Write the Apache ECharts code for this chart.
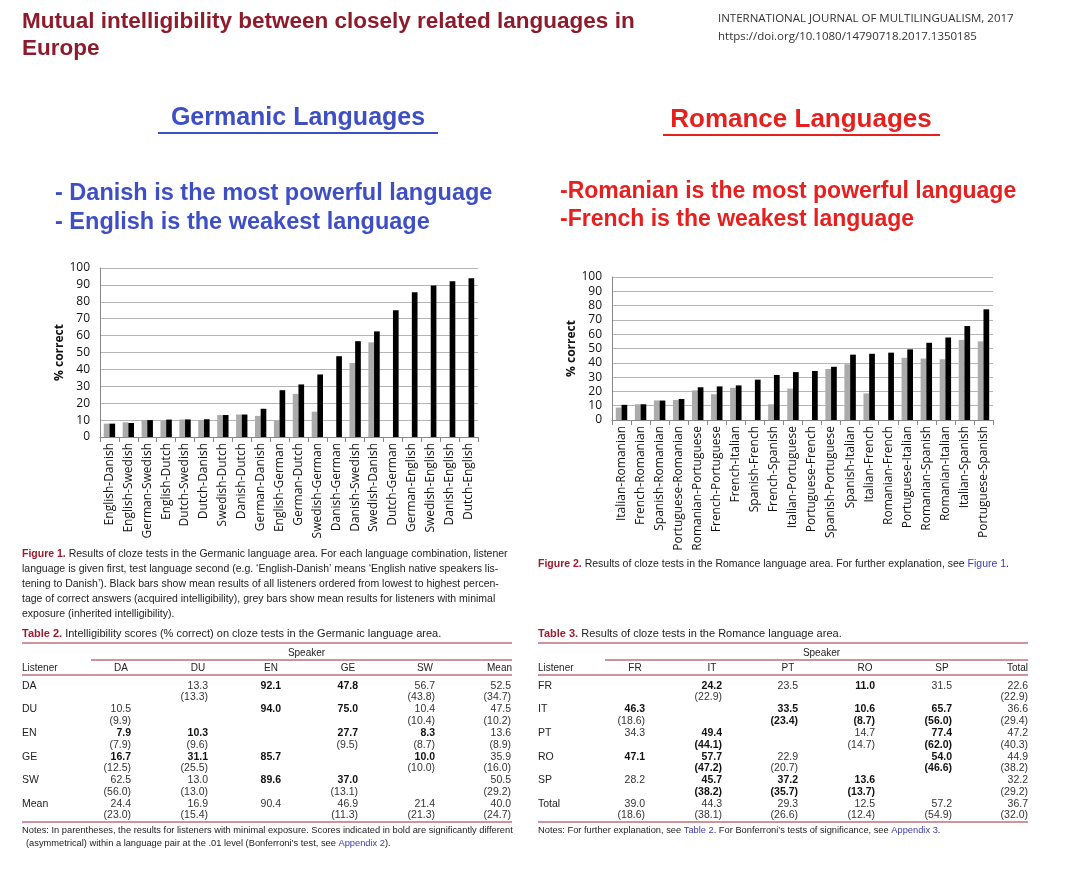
<!DOCTYPE html>
<html><head><meta charset="utf-8">
<script src="https://cdn.jsdelivr.net/npm/echarts@6/dist/echarts.min.js"></script>
<style>html,body{margin:0;padding:0;background:#fff}#c{width:1080px;height:873px}</style>
</head><body><div id="c"></div>
<script>
const gerCats=['English-Danish','English-Swedish','German-Swedish','English-Dutch','Dutch-Swedish','Dutch-Danish','Swedish-Dutch','Danish-Dutch','German-Danish','English-German','German-Dutch','Swedish-German','Danish-German','Danish-Swedish','Swedish-Danish','Dutch-German','German-English','Swedish-English','Danish-English','Dutch-English'];
const gerAll=[7.9,8.3,10.0,10.3,10.4,10.5,13.0,13.3,16.7,27.7,31.1,37.0,47.8,56.7,62.5,75.0,85.7,89.6,92.1,94.0];
const gerMin=[7.9,8.7,10.0,9.6,10.4,9.9,13.0,13.3,12.5,9.5,25.5,15.0,null,43.8,56.0,null,null,null,null,null];
const romCats=['Italian-Romanian','French-Romanian','Spanish-Romanian','Portuguese-Romanian','Romanian-Portuguese','French-Portuguese','French-Italian','Spanish-French','French-Spanish','Italian-Portuguese','Portuguese-French','Spanish-Portuguese','Spanish-Italian','Italian-French','Romanian-French','Portuguese-Italian','Romanian-Spanish','Romanian-Italian','Italian-Spanish','Portuguese-Spanish'];
const romAll=[10.6,11.0,13.6,14.7,22.9,23.5,24.2,28.2,31.5,33.5,34.3,37.2,45.7,46.3,47.1,49.4,54.0,57.7,65.7,77.4];
const romMin=[8.7,11.0,13.7,14.0,20.7,18.0,22.5,null,11.0,22.0,null,35.7,39.0,18.6,null,43.5,43.0,42.5,56.0,55.0];
const yTicks=[0,10,20,30,40,50,60,70,80,90,100];

const t2Cols=['DA','DU','EN','GE','SW','Mean'];
const t2Rows=['DA','DU','EN','GE','SW','Mean'];
const t2Vals=[
 ['','13.3','**92.1','**47.8','56.7','52.5'],
 ['10.5','','**94.0','**75.0','10.4','47.5'],
 ['**7.9','**10.3','','**27.7','**8.3','13.6'],
 ['**16.7','**31.1','**85.7','','**10.0','35.9'],
 ['62.5','13.0','**89.6','**37.0','','50.5'],
 ['24.4','16.9','90.4','46.9','21.4','40.0']];
const t2Par=[
 ['','(13.3)','','','(43.8)','(34.7)'],
 ['(9.9)','','','','(10.4)','(10.2)'],
 ['(7.9)','(9.6)','','(9.5)','(8.7)','(8.9)'],
 ['(12.5)','(25.5)','','','(10.0)','(16.0)'],
 ['(56.0)','(13.0)','','(13.1)','','(29.2)'],
 ['(23.0)','(15.4)','','(11.3)','(21.3)','(24.7)']];
const t3Cols=['FR','IT','PT','RO','SP','Total'];
const t3Rows=['FR','IT','PT','RO','SP','Total'];
const t3Vals=[
 ['','**24.2','23.5','**11.0','31.5','22.6'],
 ['**46.3','','**33.5','**10.6','**65.7','36.6'],
 ['34.3','**49.4','','14.7','**77.4','47.2'],
 ['**47.1','**57.7','22.9','','**54.0','44.9'],
 ['28.2','**45.7','**37.2','**13.6','','32.2'],
 ['39.0','44.3','29.3','12.5','57.2','36.7']];
const t3Par=[
 ['','(22.9)','','','','(22.9)'],
 ['(18.6)','','**(23.4)','**(8.7)','**(56.0)','(29.4)'],
 ['','**(44.1)','','(14.7)','**(62.0)','(40.3)'],
 ['','**(47.2)','(20.7)','','**(46.6)','(38.2)'],
 ['','**(38.2)','**(35.7)','**(13.7)','','(29.2)'],
 ['(18.6)','(38.1)','(26.6)','(12.4)','(54.9)','(32.0)']];

const F='"Liberation Sans", Arial, sans-serif';
const TF='"Open Sans", "Liberation Sans", sans-serif';
const g=[];
function txt(x,y,s,o){g.push({type:'text',x:x,y:y,style:Object.assign({text:s,fill:'#222',font:'11px '+F,textVerticalAlign:'middle'},o||{})});}
function line(x1,y1,x2,y2,c,w){g.push({type:'line',shape:{x1,y1,x2,y2},style:{stroke:c||'#9b2a40',lineWidth:w||1.2}});}

txt(22,22,'Mutual intelligibility between closely related languages in',{fill:'#8e1b2c',font:'bold 22.5px '+F});
txt(22,49,'Europe',{fill:'#8e1b2c',font:'bold 22.5px '+F});
txt(718,19,'INTERNATIONAL JOURNAL OF MULTILINGUALISM, 2017',{font:'11.5px '+TF,fill:'#333'});
txt(718,37,'https://doi.org/10.1080/14790718.2017.1350185',{font:'11.5px '+TF,fill:'#333'});
txt(298,118,'Germanic Languages',{fill:'#3e4fc6',font:'bold 25px '+F,textAlign:'center'});
line(158,133,438,133,'#3e4fc6',2);
txt(801,120,'Romance Languages',{fill:'#e5201f',font:'bold 26px '+F,textAlign:'center'});
line(663,135,940,135,'#e5201f',2);
txt(55,194,'- Danish is the most powerful language',{fill:'#3e4fc6',font:'bold 23.5px '+F});
txt(55,223,'- English is the weakest language',{fill:'#3e4fc6',font:'bold 23.5px '+F});
txt(560,192,'-Romanian is the most powerful language',{fill:'#e5201f',font:'bold 23px '+F});
txt(560,220,'-French is the weakest language',{fill:'#e5201f',font:'bold 23px '+F});

const cap1=['{b|Figure 1.} Results of cloze tests in the Germanic language area. For each language combination, listener',
'language is given first, test language second (e.g. \u2018English-Danish\u2019 means \u2018English native speakers lis-',
'tening to Danish\u2019). Black bars show mean results of all listeners ordered from lowest to highest percen-',
'tage of correct answers (acquired intelligibility), grey bars show mean results for listeners with minimal',
'exposure (inherited intelligibility).'];
const rb={b:{fill:'#9b1b30',font:'bold 10.5px '+F},l:{fill:'#3b3bb0',font:'10.5px '+F}};
const rn={l:{fill:'#3b3bb0',font:'9.3px '+F}};
cap1.forEach((s,i)=>txt(22,554+i*15,s,{font:'10.5px '+F,rich:rb}));
txt(538,564,'{b|Figure 2.} Results of cloze tests in the Romance language area. For further explanation, see {l|Figure 1}.',{font:'10.5px '+F,rich:rb});

function table(x0,xr,cols,colR,rows,vals,par,title,notes){
  const rt={b:{fill:'#9b1b30',font:'bold 11px '+F}};
  txt(x0,634,title,{font:'11px '+F,rich:rt});
  line(x0,643,xr,643);
  txt((colR[0]-30+xr)/2,653,'Speaker',{textAlign:'center',font:'10px '+F});
  line(colR[0]-40,660,xr,660);
  txt(x0,668,'Listener',{font:'10px '+F});
  cols.forEach((c,i)=>txt(i==5?xr:colR[i]-10,668,c,{textAlign:i==5?'right':'center',font:'10px '+F}));
  line(x0,675,xr,675);
  rows.forEach((r,j)=>{
    const y=686+j*23.6;
    txt(x0,y,r,{font:'10.5px '+F});
    cols.forEach((c,i)=>{
      [[vals[j][i],0],[par[j][i],11.5]].forEach(([v,dy])=>{
        if(!v)return; const b=v.startsWith('**');
        txt(colR[i],y+dy,b?v.slice(2):v,{textAlign:'right',font:(b?'bold ':'')+'10.5px '+F,fill:b?'#111':'#333'});
      });
    });
  });
  line(x0,822,xr,822);
  notes.forEach((s,i)=>txt(x0+(i?4:0),830+i*13,s,{font:'9.3px '+F,rich:rn}));
}
table(22,512,t2Cols,[131,208,281,358,435,511],t2Rows,t2Vals,t2Par,'{b|Table 2.} Intelligibility scores (% correct) on cloze tests in the Germanic language area.',
 ['Notes: In parentheses, the results for listeners with minimal exposure. Scores indicated in bold are significantly different','(asymmetrical) within a language pair at the .01 level (Bonferroni\u2019s test, see {l|Appendix 2}).']);
table(538,1028,t3Cols,[645,722,798,875,952,1028],t3Rows,t3Vals,t3Par,'{b|Table 3.} Results of cloze tests in the Romance language area.',
 ['Notes: For further explanation, see {l|Table 2}. For Bonferroni\u2019s tests of significance, see {l|Appendix 3}.']);

function axes(idx,cats){
  return {
   x:{type:'category',gridIndex:idx,data:cats,axisTick:{show:true,alignWithLabel:false,lineStyle:{color:'#888'}},axisLine:{lineStyle:{color:'#888'}},
      axisLabel:{rotate:90,interval:0,fontSize:12,color:'#111',fontFamily:TF,margin:6}},
   y:{type:'value',gridIndex:idx,min:0,max:100,interval:10,name:'% correct',nameLocation:'middle',nameGap:30,
      nameTextStyle:{fontWeight:'bold',fontSize:12,fontFamily:TF,color:'#111'},
      axisLine:{show:true,lineStyle:{color:'#888'}},axisLabel:{fontSize:12,color:'#111',fontFamily:TF,margin:10},
      splitLine:{lineStyle:{color:'#b5b5b5'}}}
  };
}
const a1=axes(0,gerCats),a2=axes(1,romCats);
function bars(idx,data,color){return {type:'bar',xAxisIndex:idx,yAxisIndex:idx,data:data,barGap:'0%',barCategoryGap:'40%',itemStyle:{color:color},silent:true,animation:false};}
const chart=echarts.init(document.getElementById('c'));
chart.setOption({
  animation:false,
  grid:[{left:100,top:268,width:378,height:169},{left:612,top:277,width:381,height:143}],
  xAxis:[a1.x,a2.x],yAxis:[a1.y,a2.y],
  series:[bars(0,gerMin,'#ababab'),bars(0,gerAll,'#000'),bars(1,romMin,'#ababab'),bars(1,romAll,'#000')],
  graphic:g
});
</script></body></html>
